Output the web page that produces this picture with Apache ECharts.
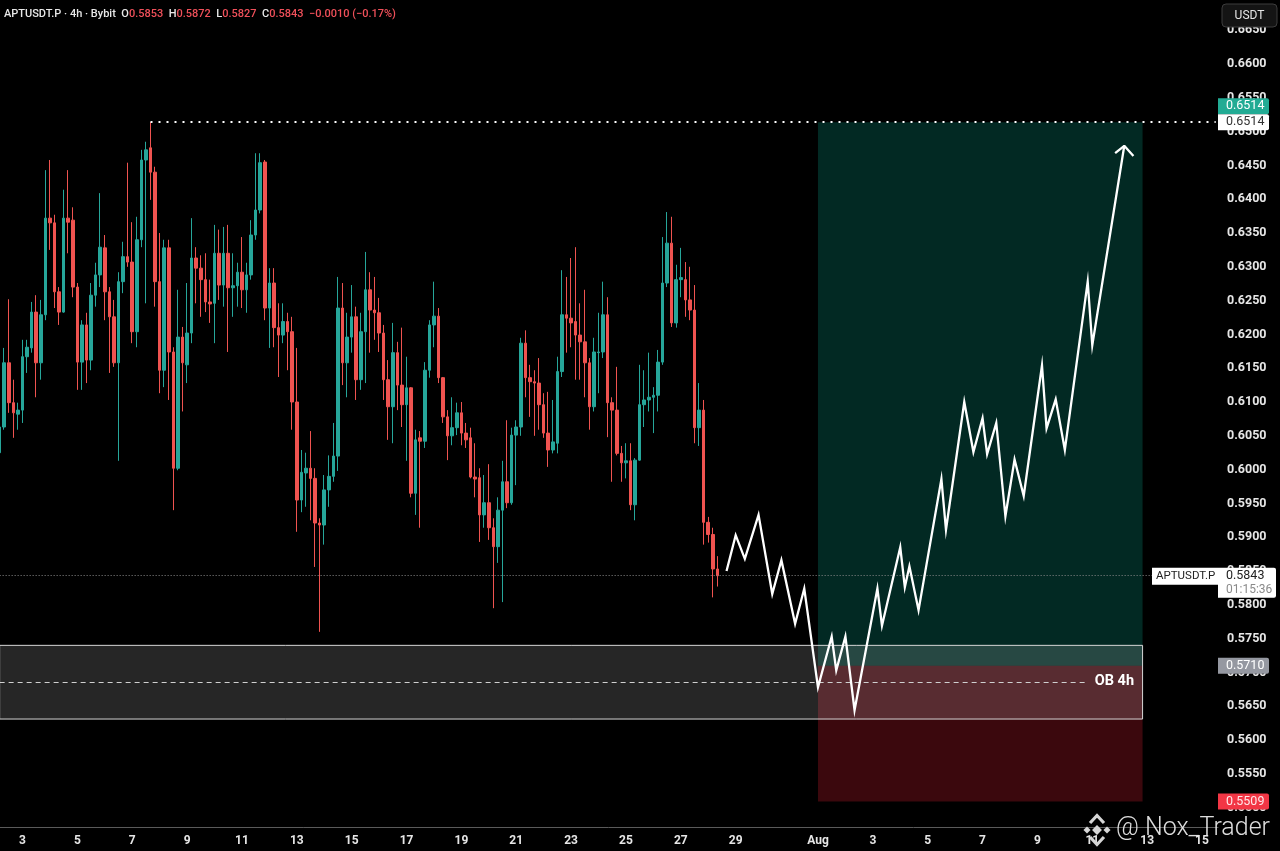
<!DOCTYPE html>
<html><head><meta charset="utf-8">
<script src="https://cdn.jsdelivr.net/npm/echarts/dist/echarts.min.js"></script>
<style>html,body{margin:0;padding:0;background:#000;overflow:hidden}#main{width:1280px;height:851px}</style>
</head><body><div id="main"></div><script>
// ---------- data ----------
const SLOTS = 267; // 4h slots from 07-02 04:00
const tickDays = ['07-03','07-05','07-07','07-09','07-11','07-13','07-15','07-17','07-19','07-21','07-23','07-25','07-27','07-29','08-01','08-03','08-05','08-07','08-09','08-11','08-13','08-15'];
const tickLabels = ['3','5','7','9','11','13','15','17','19','21','23','25','27','29','Aug','3','5','7','9','11','13','15'];
// [open, close, low, high]
const candles = [
[0.6025,0.6063,0.6014,0.6076],[0.6063,0.6158,0.6059,0.6180],[0.6158,0.6099,0.6084,0.6252],[0.6099,0.6084,0.6047,0.6133],[0.6082,0.6088,0.6059,0.6099],
[0.6088,0.6167,0.6069,0.6192],[0.6167,0.6181,0.6143,0.6192],[0.6180,0.6233,0.6173,0.6248],[0.6233,0.6158,0.6107,0.6258],[0.6158,0.6229,0.6133,0.6251],
[0.6229,0.6372,0.6221,0.6443],[0.6372,0.6365,0.6325,0.6458],[0.6365,0.6263,0.6239,0.6377],[0.6263,0.6233,0.6214,0.6270],[0.6233,0.6372,0.6232,0.6414],
[0.6372,0.6366,0.6320,0.6443],[0.6369,0.6270,0.6255,0.6388],[0.6270,0.6159,0.6118,0.6276],[0.6159,0.6214,0.6118,0.6221],[0.6214,0.6162,0.6128,0.6232],
[0.6162,0.6258,0.6147,0.6276],[0.6258,0.6288,0.6241,0.6306],[0.6288,0.6329,0.6270,0.6409],[0.6328,0.6263,0.6221,0.6347],[0.6263,0.6226,0.6143,0.6270],
[0.6226,0.6158,0.6152,0.6251],[0.6158,0.6278,0.6013,0.6292],[0.6278,0.6315,0.6261,0.6337],[0.6315,0.6307,0.6300,0.6454],[0.6307,0.6204,0.6187,0.6366],
[0.6204,0.6340,0.6181,0.6374],[0.6340,0.6458,0.6329,0.6473],[0.6458,0.6473,0.6246,0.6485],[0.6476,0.6440,0.6399,0.6514],[0.6440,0.6278,0.6241,0.6448],
[0.6278,0.6147,0.6113,0.6350],[0.6147,0.6328,0.6122,0.6340],[0.6328,0.6174,0.6103,0.6340],[0.6174,0.6002,0.5940,0.6181],[0.6002,0.6196,0.5999,0.6266],
[0.6196,0.6158,0.6086,0.6211],[0.6155,0.6202,0.6128,0.6276],[0.6202,0.6313,0.6187,0.6372],[0.6313,0.6298,0.6246,0.6329],[0.6298,0.6281,0.6226,0.6317],
[0.6281,0.6248,0.6233,0.6320],[0.6248,0.6245,0.6217,0.6281],[0.6246,0.6320,0.6187,0.6362],[0.6320,0.6273,0.6251,0.6355],[0.6273,0.6320,0.6241,0.6359],
[0.6320,0.6269,0.6174,0.6362],[0.6269,0.6272,0.6226,0.6320],[0.6272,0.6292,0.6241,0.6306],[0.6292,0.6266,0.6239,0.6344],[0.6266,0.6288,0.6232,0.6306],
[0.6288,0.6347,0.6281,0.6369],[0.6347,0.6384,0.6340,0.6468],[0.6384,0.6454,0.6379,0.6468],[0.6455,0.6239,0.6221,0.6458],[0.6239,0.6276,0.6180,0.6298],
[0.6276,0.6210,0.6181,0.6298],[0.6210,0.6199,0.6137,0.6246],[0.6199,0.6219,0.6187,0.6246],[0.6219,0.6204,0.6147,0.6232],[0.6204,0.6100,0.6059,0.6226],
[0.6100,0.5955,0.5908,0.6180],[0.5955,0.5996,0.5937,0.6029],[0.5995,0.6002,0.5945,0.6025],[0.6002,0.5987,0.5925,0.6057],[0.5987,0.5921,0.5856,0.6002],
[0.5921,0.5918,0.5760,0.5928],[0.5918,0.5970,0.5889,0.5992],[0.5970,0.5990,0.5945,0.6021],[0.5990,0.6020,0.5982,0.6069],[0.6020,0.6239,0.5998,0.6285],
[0.6239,0.6158,0.6125,0.6276],[0.6158,0.6196,0.6107,0.6232],[0.6196,0.6226,0.6173,0.6273],[0.6226,0.6133,0.6103,0.6241],[0.6133,0.6204,0.6118,0.6232],
[0.6204,0.6266,0.6128,0.6322],[0.6266,0.6236,0.6173,0.6292],[0.6236,0.6232,0.6192,0.6285],[0.6232,0.6202,0.6174,0.6254],[0.6202,0.6133,0.6103,0.6214],
[0.6133,0.6093,0.6044,0.6162],[0.6093,0.6173,0.6039,0.6217],[0.6173,0.6125,0.6088,0.6189],[0.6125,0.6096,0.6063,0.6210],[0.6096,0.6121,0.6013,0.6167],
[0.6121,0.5965,0.5959,0.6122],[0.5965,0.6044,0.5933,0.6059],[0.6047,0.6042,0.5914,0.6057],[0.6042,0.6147,0.6032,0.6159],[0.6147,0.6214,0.6136,0.6221],
[0.6214,0.6227,0.6181,0.6278],[0.6227,0.6136,0.6128,0.6239],[0.6136,0.6078,0.6069,0.6137],[0.6078,0.6050,0.6014,0.6088],[0.6050,0.6062,0.6036,0.6107],
[0.6062,0.6084,0.6051,0.6099],[0.6084,0.6054,0.6036,0.6100],[0.6054,0.6044,0.6032,0.6069],[0.6047,0.5989,0.5987,0.6062],[0.5989,0.5986,0.5959,0.6039],
[0.5988,0.5933,0.5893,0.6002],[0.5933,0.5951,0.5914,0.5992],[0.5951,0.5914,0.5896,0.6008],[0.5914,0.5886,0.5795,0.5928],[0.5886,0.5940,0.5862,0.5959],
[0.5940,0.5982,0.5804,0.6013],[0.5982,0.5951,0.5943,0.6073],[0.5951,0.6051,0.5948,0.6062],[0.6051,0.6063,0.5977,0.6073],[0.6063,0.6187,0.6050,0.6195],
[0.6187,0.6136,0.6107,0.6206],[0.6136,0.6130,0.6078,0.6155],[0.6130,0.6128,0.6050,0.6147],[0.6128,0.6096,0.6059,0.6165],[0.6096,0.6054,0.6047,0.6113],
[0.6054,0.6029,0.6004,0.6115],[0.6029,0.6041,0.6024,0.6103],[0.6039,0.6145,0.6024,0.6167],[0.6145,0.6229,0.6137,0.6295],[0.6229,0.6224,0.6173,0.6285],
[0.6224,0.6217,0.6181,0.6313],[0.6219,0.6199,0.6133,0.6329],[0.6199,0.6189,0.6133,0.6246],[0.6189,0.6158,0.6107,0.6266],[0.6158,0.6093,0.6059,0.6165],
[0.6093,0.6174,0.6086,0.6195],[0.6173,0.6174,0.6113,0.6232],[0.6174,0.6229,0.6165,0.6278],[0.6229,0.6099,0.6048,0.6255],[0.6099,0.6088,0.5982,0.6107],
[0.6088,0.6024,0.6021,0.6152],[0.6024,0.6010,0.5982,0.6035],[0.6010,0.6013,0.5987,0.6039],[0.6013,0.5948,0.5940,0.6039],[0.5948,0.6014,0.5925,0.6017],
[0.6014,0.6096,0.6013,0.6155],[0.6096,0.6103,0.6063,0.6147],[0.6103,0.6107,0.6086,0.6173],[0.6107,0.6110,0.6054,0.6122],[0.6110,0.6159,0.6086,0.6177],
[0.6159,0.6276,0.6155,0.6344],[0.6276,0.6335,0.6270,0.6381],[0.6335,0.6217,0.6211,0.6374],[0.6217,0.6281,0.6210,0.6303],[0.6281,0.6284,0.6255,0.6328],
[0.6281,0.6251,0.6226,0.6307],[0.6251,0.6236,0.6221,0.6300],[0.6236,0.6062,0.6039,0.6273],[0.6062,0.6088,0.6035,0.6128],[0.6088,0.5922,0.5889,0.6103],
[0.5922,0.5904,0.5892,0.5930],[0.5904,0.5853,0.5811,0.5914],[0.5853,0.5843,0.5827,0.5872]
];
// projected path (slot index, price)
const pathX = [159,161,163,166,169,171,174,176,179,182,183,185,187,192,193,197,198,199,201,206,207,211,213,215,216,218,220,222,224,228,229,231,233,238,239,246];
const pathY = [0.5850,0.5903,0.5868,0.5933,0.5816,0.5866,0.5772,0.5824,0.5678,0.5753,0.5703,0.5753,0.5644,0.5824,0.5769,0.5885,0.5826,0.5857,0.5792,0.5986,0.5911,0.6100,0.6026,0.6076,0.6023,0.6069,0.5931,0.6015,0.5961,0.6154,0.6061,0.6104,0.6029,0.6278,0.6184,0.6479];
const arrowX = [244,246,248];
const arrowY = [0.6468,0.6479,0.6464];
// levels
const highLevel = 0.6514, lastPrice = 0.5843, entry = 0.5710, stop = 0.5509;
const obTop = 0.5740, obBottom = 0.5631, obMid = 0.5686;
const posStart = 179, posEnd = 250, highStart = 33, obEnd = 250, obMidEnd = 238;
const header = {O:'0.5853', H:'0.5872', L:'0.5827', C:'0.5843', chg:'\u22120.0010 (\u22120.17%)'};

// ---------- build ----------
const pad = n => String(n).padStart(2,'0');
const categories = [];
const t0 = Date.UTC(2025,6,2,4);
for (let i=0;i<SLOTS;i++){ const d=new Date(t0+i*4*3600e3); categories.push(pad(d.getUTCMonth()+1)+'-'+pad(d.getUTCDate())+' '+pad(d.getUTCHours())+':00'); }
const labelMap = {}; tickDays.forEach((d,i)=>{ labelMap[d+' 00:00']=tickLabels[i]; });
const path = pathX.map((x,i)=>[x,pathY[i]]);
const arrow = arrowX.map((x,i)=>[x,arrowY[i]]);

const UP='#26a69a', DOWN='#ef5350';
const FONT='Roboto, "Liberation Sans", sans-serif';
const chart = echarts.init(document.getElementById('main'));
const G = {left:-2.65, right:62};
const option = {
  backgroundColor:'#000000', animation:false,
  grid:[
    {left:G.left, right:G.right, top:0, bottom:24, outerBoundsMode:'none', containLabel:false},
    {left:G.left, right:G.right, top:-3.6, bottom:9.6, outerBoundsMode:'none', containLabel:false}
  ],
  xAxis:[
    {type:'category', gridIndex:0, data:categories, boundaryGap:true,
     axisLine:{show:true, lineStyle:{color:'#5a5a5a', width:1}}, axisTick:{show:false}, splitLine:{show:false},
     axisLabel:{interval:(i,v)=>labelMap[v]!==undefined, formatter:v=>labelMap[v]||'', color:'#e6e6e6', fontSize:12, fontWeight:'bold', fontFamily:FONT, margin:8}},
    {type:'value', gridIndex:1, show:false, min:0, max:1}
  ],
  yAxis:[
    {type:'value', gridIndex:0, min:0.547130, max:0.669467, show:false, splitLine:{show:false}},
    {type:'value', gridIndex:1, min:0.545, max:0.670, interval:0.005, position:'right',
     axisLine:{show:true, lineStyle:{color:'#5a5a5a', width:1}}, axisTick:{show:false}, splitLine:{show:false},
     axisLabel:{margin:9, color:'#e6e6e6', fontSize:12.5, fontWeight:'bold', fontFamily:FONT,
       formatter:v=> (v<0.5475||v>0.6675)?'':v.toFixed(4)}}
  ],
  series:[
    {type:'line', xAxisIndex:1, yAxisIndex:1, data:[], silent:true},
    {type:'candlestick', xAxisIndex:0, yAxisIndex:0, data:candles, barWidth:'68%', z:3,
     itemStyle:{color:UP, color0:DOWN, borderColor:UP, borderColor0:DOWN, borderWidth:1},
     markArea:{silent:true, data:[
       [{xAxis:posStart, yAxis:highLevel, itemStyle:{color:'rgba(8,153,129,0.27)'}},{xAxis:posEnd, yAxis:entry}],
       [{xAxis:posStart, yAxis:entry, itemStyle:{color:'rgba(235,30,50,0.25)'}},{xAxis:posEnd, yAxis:stop}],
       [{xAxis:0, yAxis:obTop, itemStyle:{color:'rgba(255,255,255,0.15)', borderColor:'#d6d6d6', borderWidth:1}},{xAxis:obEnd, yAxis:obBottom}]
     ]},
     markLine:{silent:true, symbol:['none','none'], animation:false, data:[
       [{coord:[highStart, highLevel], lineStyle:{color:'#ffffff', width:2, type:[2,6]}, label:{show:false}},{coord:[SLOTS-1, highLevel]}],
       [{coord:[0, lastPrice], lineStyle:{color:'#8a8a8a', width:1, type:[1,2]}, label:{show:false}},{coord:[SLOTS-1, lastPrice]}],
       [{coord:[0, obMid], lineStyle:{color:'#d0d0d0', width:1, type:[5,4]},
         label:{show:true, position:'end', formatter:'OB 4h', color:'#ffffff', fontSize:14.5, fontWeight:'bold', fontFamily:FONT, distance:7}},{coord:[obMidEnd, obMid]}]
     ]}
    },
    {type:'line', xAxisIndex:0, yAxisIndex:0, data:path, showSymbol:false, symbol:'none', z:6, silent:true,
     lineStyle:{color:'#ffffff', width:2.3, join:'miter'}},
    {type:'line', xAxisIndex:0, yAxisIndex:0, data:arrow, showSymbol:false, symbol:'none', z:6, silent:true,
     lineStyle:{color:'#ffffff', width:2.3}}
  ]
};
chart.setOption(option);

const yOf = p => chart.convertToPixel({xAxisIndex:0, yAxisIndex:0}, [0, p])[1];
function tag(y, text, bg, fg, w){
  return {type:'group', children:[
    {type:'rect', shape:{x:1218, y:y-8, width:w||51, height:16, r:[0,2,2,0]}, style:{fill:bg}, z:20},
    {type:'text', x:1226, y:y, style:{text:text, fill:fg, font:'12.5px '+FONT, verticalAlign:'middle'}, z:21}
  ]};
}
const yH = yOf(highLevel), yL = yOf(lastPrice), yE = yOf(entry), yS = yOf(stop);
const RED = '#f0505a', WH = '#e8e8e8';
const hs = {w:{fill:WH, fontSize:11, fontWeight:500, fontFamily:FONT}, r:{fill:RED, fontSize:11, fontWeight:500, fontFamily:FONT}};
const headerText = '{w|APTUSDT.P \u00b7 4h \u00b7 Bybit  O}{r|'+header.O+'}{w|  H}{r|'+header.H+'}{w|  L}{r|'+header.L+'}{w|  C}{r|'+header.C+'}{r|  '+header.chg+'}';
const g = [
  // header
  {type:'text', x:4, y:14, style:{text:headerText, rich:hs, verticalAlign:'middle'}},
  // USDT button
  {type:'rect', shape:{x:1222, y:4, width:55, height:23, r:4}, style:{fill:'#141414', stroke:'#3c3c3c', lineWidth:1}, z:20},
  {type:'text', x:1249.5, y:15.5, style:{text:'USDT', fill:'#e6e6e6', font:'12px '+FONT, align:'center', verticalAlign:'middle'}, z:21},
  // price tags
  tag(yH-16, highLevel.toFixed(4), '#22ab94', '#ffffff'),
  tag(yH, highLevel.toFixed(4), '#ffffff', '#333333'),
  tag(yE, entry.toFixed(4), '#9598a1', '#ffffff'),
  tag(yS, stop.toFixed(4), '#f23645', '#ffe8ea'),
  // last price
  {type:'rect', shape:{x:1152, y:yL-8, width:66, height:17}, style:{fill:'#ffffff'}, z:20},
  {type:'text', x:1156, y:yL+0.5, style:{text:'APTUSDT.P', fill:'#222222', font:'11.5px '+FONT, verticalAlign:'middle'}, z:21},
  {type:'rect', shape:{x:1218, y:yL-8, width:58, height:30, r:[0,2,2,0]}, style:{fill:'#ffffff'}, z:20},
  {type:'text', x:1226, y:yL+0.5, style:{text:lastPrice.toFixed(4), fill:'#222222', font:'12.5px '+FONT, verticalAlign:'middle'}, z:21},
  {type:'text', x:1226, y:yL+14.5, style:{text:'01:15:36', fill:'#8a8a8a', font:'12px '+FONT, verticalAlign:'middle'}, z:21},
  // watermark
  {type:'rect', x:1097, y:830, rotation:Math.PI/4, shape:{x:-3.5,y:-3.5,width:7,height:7}, style:{fill:'#d6d6d6'}, z:30},
  {type:'rect', x:1087, y:830, rotation:Math.PI/4, shape:{x:-2.5,y:-2.5,width:5,height:5}, style:{fill:'#d6d6d6'}, z:30},
  {type:'rect', x:1107, y:830, rotation:Math.PI/4, shape:{x:-2.5,y:-2.5,width:5,height:5}, style:{fill:'#d6d6d6'}, z:30},
  {type:'polyline', shape:{points:[[1090,823],[1097,815.5],[1104,823]]}, style:{stroke:'#d6d6d6', lineWidth:3.2, fill:null}, z:30},
  {type:'polyline', shape:{points:[[1090,837],[1097,844.5],[1104,837]]}, style:{stroke:'#d6d6d6', lineWidth:3.2, fill:null}, z:30},
  {type:'text', x:1116, y:829, style:{text:'@ Nox_Trader', fill:'rgba(240,240,240,0.92)', font:'300 25px '+FONT, verticalAlign:'middle'}, z:30}
];
chart.setOption({graphic:g});
</script></body></html>
